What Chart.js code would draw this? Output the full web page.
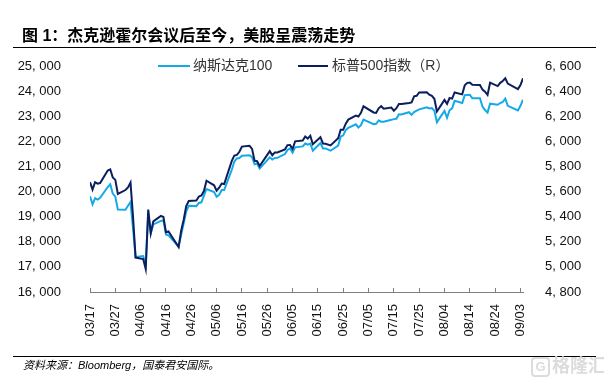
<!DOCTYPE html>
<html>
<head>
<meta charset="utf-8">
<script src="https://cdn.jsdelivr.net/npm/chart.js@4.4.1/dist/chart.umd.min.js"></script>
<style>
  html, body { margin: 0; padding: 0; background: #fff; }
  #wrap { position: relative; width: 604px; height: 378px; overflow: hidden; font-family: "Liberation Sans", "Noto Sans CJK SC", sans-serif; }
  #c { position: absolute; left: 0; top: 0; }
  .abs { position: absolute; white-space: nowrap; }
  #title { left: 22px; top: 26px; font-size: 16px; line-height: 20px; font-weight: 700; color: #000; font-family: "Liberation Sans", "Noto Sans CJK SC", sans-serif; }
  #rule1 { left: 13px; top: 47px; width: 583px; height: 0; border-top: 1.5px solid #000; }
  #rule2 { left: 13px; top: 356px; width: 583px; height: 0; border-top: 1px solid #000; }
  #source { left: 23px; top: 358px; font-size: 11px; line-height: 14px; font-style: italic; color: #000; }
  .legline { height: 0; border-top: 2px solid; }
  .legtxt { font-size: 14px; line-height: 16px; color: #333; }
  #wm { left: 531px; top: 355px; font-size: 18px; line-height: 22px; font-weight: 700; color: #dcdcdc; }
  #wm span.g { display: inline-block; border: 2px solid #dcdcdc; border-radius: 4px; width: 15px; height: 16px; line-height: 16px; text-align: center; font-size: 13px; margin-right: 2px; vertical-align: 1px; }
</style>
</head>
<body>
<div id="wrap">
  <canvas id="c" width="604" height="378"></canvas>
  <div id="title" class="abs">图 1：杰克逊霍尔会议后至今，美股呈震荡走势</div>
  <div id="rule1" class="abs"></div>
  <div class="abs legline" style="left:158px;top:64.5px;width:32px;border-color:#14A9E8;"></div>
  <div class="abs legtxt" style="left:193px;top:57px;">纳斯达克100</div>
  <div class="abs legline" style="left:298px;top:64.5px;width:30px;border-color:#0B1F5E;"></div>
  <div class="abs legtxt" style="left:332px;top:57px;">标普500指数（R）</div>
  <div id="rule2" class="abs"></div>
  <div id="source" class="abs">资料来源：Bloomberg，国泰君安国际。</div>
  <div id="wm" class="abs"><span class="g">G</span>格隆汇</div>
</div>
<script>
// ---- Data (2025 trading days) ----
const tradeDates = [
  '03/17','03/18','03/19','03/20','03/21','03/24','03/25','03/26','03/27','03/28','03/31',
  '04/01','04/02','04/03','04/04','04/07','04/08','04/09','04/10','04/11','04/14','04/15','04/16','04/17','04/21','04/22','04/23','04/24','04/25','04/28','04/29','04/30',
  '05/01','05/02','05/05','05/06','05/07','05/08','05/09','05/12','05/13','05/14','05/15','05/16','05/19','05/20','05/21','05/22','05/23','05/27','05/28','05/29','05/30',
  '06/02','06/03','06/04','06/05','06/06','06/09','06/10','06/11','06/12','06/13','06/16','06/17','06/18','06/20','06/23','06/24','06/25','06/26','06/27','06/30',
  '07/01','07/02','07/03','07/07','07/08','07/09','07/10','07/11','07/14','07/15','07/16','07/17','07/18','07/21','07/22','07/23','07/24','07/25','07/28','07/29','07/30','07/31',
  '08/01','08/04','08/05','08/06','08/07','08/08','08/11','08/12','08/13','08/14','08/15','08/18','08/19','08/20','08/21','08/22','08/25','08/26','08/27','08/28','08/29',
  '09/02','09/03','09/04'
];
const nasdaq100 = [
  19815,19492,19736,19677,19753,20180,20287,19917,19799,19282,19278,
  19436,19583,18521,17397,17431,17090,19145,18346,18690,18831,18858,18293,18258,17809,18276,18733,19216,19433,19420,19547,19571,
  19838,20102,19979,19791,19867,20064,20062,20868,21196,21319,21336,21427,21447,21367,21084,21112,20915,21363,21275,21338,21341,
  21492,21655,21719,21547,21761,21799,21914,21864,21913,21631,21935,21719,21719,21626,21830,22191,22238,22447,22534,22679,
  22553,22642,22867,22685,22700,22830,22780,22780,22856,22885,22899,23077,23066,23158,23053,23162,23219,23273,23357,23308,23326,23219,
  22763,23214,22938,23237,23315,23613,23528,23840,23850,23854,23713,23713,23385,23248,23143,23499,23456,23525,23565,23703,23415,
  23232,23415,23658
];
const sp500 = [
  5675,5615,5675,5663,5668,5768,5777,5712,5693,5581,5612,
  5633,5671,5397,5074,5062,4983,5457,5268,5363,5406,5397,5276,5283,5158,5288,5376,5485,5525,5529,5561,5569,
  5604,5686,5650,5607,5631,5664,5660,5844,5886,5892,5917,5958,5964,5940,5845,5842,5803,5922,5889,5912,5912,
  5936,5970,5971,5939,6000,6006,6038,6022,6045,5977,6033,5983,5981,5967,6025,6092,6092,6141,6173,6205,
  6198,6227,6279,6230,6226,6263,6280,6260,6269,6244,6264,6297,6297,6306,6310,6359,6363,6389,6390,6371,6362,6339,
  6238,6330,6299,6345,6340,6389,6374,6446,6466,6469,6450,6449,6412,6396,6370,6467,6440,6466,6481,6502,6460,
  6416,6448,6502
];
const xTickLabels = ['03/17','03/27','04/06','04/16','04/26','05/06','05/16','05/26','06/05','06/15','06/25','07/05','07/15','07/25','08/04','08/14','08/24','09/03'];
const leftAxis = { min: 16000, max: 25000, step: 1000 };
const rightAxis = { min: 4800, max: 6600, step: 200 };

// calendar-day offset from 03/17 (date axis)
const YEAR = 2025;
const base = Date.UTC(YEAR, 2, 17);
function dayOffset(md) {
  const [m, d] = md.split('/').map(Number);
  return Math.round((Date.UTC(YEAR, m - 1, d) - base) / 86400000);
}
const xs = tradeDates.map(dayOffset);
const lastDay = xs[xs.length - 1];

function fmt(v) {
  const s = Math.round(v).toString();
  return s.length > 3 ? s.slice(0, s.length - 3) + ', ' + s.slice(-3) : s;
}

const tickFont = { family: '"Liberation Sans", "Noto Sans CJK SC", sans-serif', size: 13 };

new Chart(document.getElementById('c'), {
  type: 'line',
  data: {
    datasets: [
      {
        label: '标普500指数（R）',
        data: sp500.map((v, i) => ({ x: xs[i], y: v })),
        yAxisID: 'yR',
        borderColor: '#0B1F5E',
        borderWidth: 2,
        pointRadius: 0,
        tension: 0,
        order: 0
      },
      {
        label: '纳斯达克100',
        data: nasdaq100.map((v, i) => ({ x: xs[i], y: v })),
        yAxisID: 'yL',
        borderColor: '#14A9E8',
        borderWidth: 2,
        pointRadius: 0,
        tension: 0,
        order: 1
      }
    ]
  },
  options: {
    responsive: false,
    animation: false,
    devicePixelRatio: 1,
    layout: { padding: { top: 66, left: 0, right: 0, bottom: 0 } },
    plugins: { legend: { display: false }, tooltip: { enabled: false } },
    scales: {
      x: {
        type: 'linear',
        min: 0,
        max: lastDay,
        afterBuildTicks: (s) => { s.ticks = xTickLabels.map((_, i) => ({ value: i * 10 })); },
        afterFit: (s) => { s.height = 86; },
        grid: { display: true, drawOnChartArea: false, drawTicks: true, tickLength: -4, color: '#808080', lineWidth: 1 },
        border: { display: true, color: '#808080', width: 1 },
        ticks: {
          autoSkip: false,
          minRotation: 90,
          maxRotation: 90,
          padding: 16,
          color: '#111',
          font: tickFont,
          callback: (v) => xTickLabels[Math.round(v / 10)]
        }
      },
      yL: {
        position: 'left',
        min: leftAxis.min,
        max: leftAxis.max,
        afterFit: (s) => { s.width = 90; },
        grid: { display: false },
        border: { display: false },
        ticks: { stepSize: leftAxis.step, padding: 21, color: '#111', font: tickFont, callback: fmt }
      },
      yR: {
        position: 'right',
        min: rightAxis.min,
        max: rightAxis.max,
        afterFit: (s) => { s.width = 81; },
        grid: { display: false },
        border: { display: false },
        ticks: { stepSize: rightAxis.step, padding: 14, color: '#111', font: tickFont, callback: fmt }
      }
    }
  }
});
</script>
</body>
</html>
